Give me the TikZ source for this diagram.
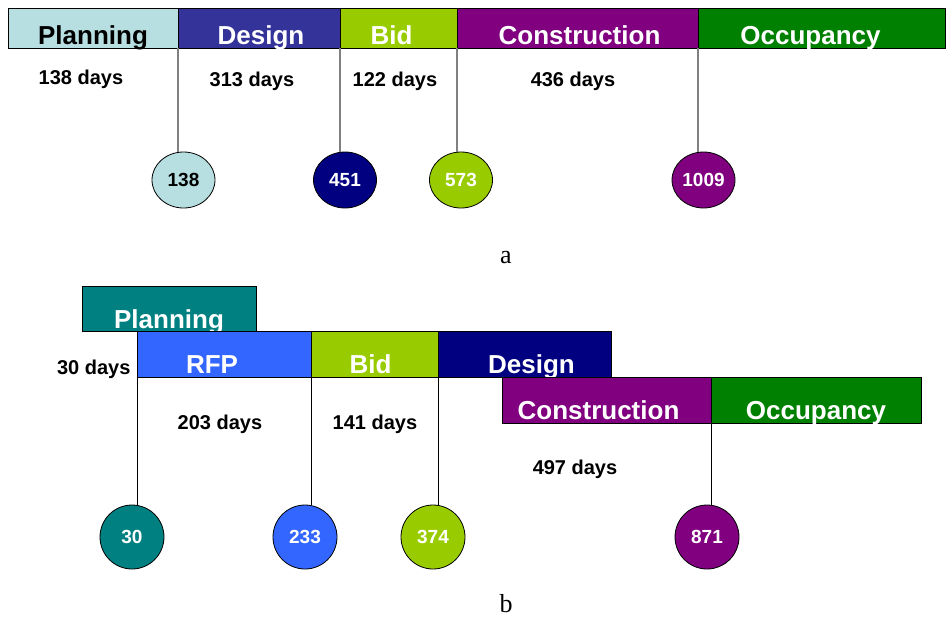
\documentclass[tikz,border=0pt]{standalone}
\usepackage{fontspec}
\setmainfont{Liberation Sans}
\newfontfamily\capfont{Liberation Serif}
\usetikzlibrary{positioning,shapes.geometric}

\definecolor{paleblue}{HTML}{B7DEE0}
\definecolor{indigoA}{HTML}{333399}
\definecolor{navyB}{HTML}{000080}
\definecolor{limeB}{HTML}{99CC00}
\definecolor{plumB}{HTML}{800080}
\definecolor{greenB}{HTML}{008000}
\definecolor{tealB}{HTML}{008080}
\definecolor{rfpblue}{HTML}{3366FF}

\tikzset{
  phase/.style={draw=black, line width=0.8pt, rectangle, inner sep=0pt, outer sep=0pt,
    text=white, font=\fontsize{26}{28}\selectfont\bfseries, text depth=2pt},
  phaseA/.style={phase, minimum height=40pt, text height=36pt},
  phaseB/.style={phase, minimum height=46pt, text height=41pt},
  days/.style={font=\fontsize{20}{22}\selectfont\bfseries},
  milestone/.style={ellipse, draw=black, line width=0.8pt, inner sep=0pt,
    text=white, font=\fontsize{19}{21}\selectfont\bfseries},
  msA/.style={milestone, minimum width=63pt, minimum height=56pt},
  msB/.style={milestone, minimum width=64pt, minimum height=64pt},
  stemA/.style={draw=gray, line width=1.4pt},
  stemB/.style={draw=black, line width=0.9pt},
  caption/.style={font=\capfont\fontsize{26}{28}\selectfont},
}

\begin{document}
\begin{tikzpicture}[x=1pt,y=-1pt]
  \useasboundingbox (0,0) rectangle (947,618);

  % (a) sequential phases
  \node[phaseA, fill=paleblue, text=black, minimum width=170pt, anchor=north west] (planA) at (8,8) {Planning};
  \node[phaseA, fill=indigoA, minimum width=162pt, right=0pt of planA] (designA) {\hspace*{4pt}Design};
  \node[phaseA, fill=limeB, minimum width=117pt, right=0pt of designA] (bidA) {Bid\hspace*{14pt}};
  \node[phaseA, fill=plumB, minimum width=241pt, right=0pt of bidA] (conA) {\hspace*{4pt}Construction};
  \node[phaseA, fill=greenB, minimum width=247pt, right=0pt of conA] (occA) {Occupancy\hspace*{22pt}};

  \node[days] (d138) at (81,79) {138 days};
  \node[days] (d313) at (252,81) {313 days};
  \node[days] (d122) at (395,81) {122 days};
  \node[days] (d436) at (573,81) {436 days};

  \node[msA, fill=paleblue, text=black] (m138) at (183.5,180) {138};
  \node[msA, fill=navyB] (m451) at (345,180) {451};
  \node[msA, fill=limeB] (m573) at (461,180) {573};
  \node[msA, fill=plumB] (m1009) at (703.5,180) {1009};

  \draw[stemA] (designA.south west) -- (designA.south west |- m138.north);
  \draw[stemA] (bidA.south west) -- (bidA.south west |- m451.north);
  \draw[stemA] (conA.south west) -- (conA.south west |- m573.north);
  \draw[stemA] (occA.south west) -- (occA.south west |- m1009.north);

  \node[caption] (capA) at (506,258) {a};

  % (b) overlapping phases
  \node[phase, fill=tealB, minimum width=174pt, minimum height=45pt, text height=41pt, anchor=north west] (planB) at (82,286) {Planning};
  \node[phaseB, fill=rfpblue, minimum width=174pt, anchor=north west] (rfpB) at (137,331) {RFP\hspace*{24pt}};
  \node[phaseB, fill=limeB, minimum width=127pt, right=0pt of rfpB] (bidB) {Bid\hspace*{8pt}};
  \node[phaseB, fill=navyB, minimum width=173pt, right=0pt of bidB] (designB) {\hspace*{14pt}Design};
  \node[phaseB, fill=plumB, minimum width=209pt, anchor=north west] (conB) at (502,377) {Construction\hspace*{16pt}};
  \node[phaseB, fill=greenB, minimum width=210pt, right=0pt of conB] (occB) {Occupancy};

  \node[days, anchor=east] (d30) at (134,369) {30 days};
  \node[days] (d203) at (220,424) {203 days};
  \node[days] (d141) at (375,424) {141 days};
  \node[days] (d497) at (575,469) {497 days};

  \node[msB, fill=tealB] (m30) at (132,537) {30};
  \node[msB, fill=rfpblue] (m233) at (305,537) {233};
  \node[msB, fill=limeB] (m374) at (433,537) {374};
  \node[msB, fill=plumB] (m871) at (707,537) {871};

  \draw[stemB] (rfpB.south west) -- (rfpB.south west |- m30.north);
  \draw[stemB] (bidB.south west) -- (bidB.south west |- m233.north);
  \draw[stemB] (designB.south west) -- (designB.south west |- m374.north);
  \draw[stemB] (occB.south west) -- (occB.south west |- m871.north);

  \node[caption] (capB) at (506,604) {b};
\end{tikzpicture}
\end{document}
